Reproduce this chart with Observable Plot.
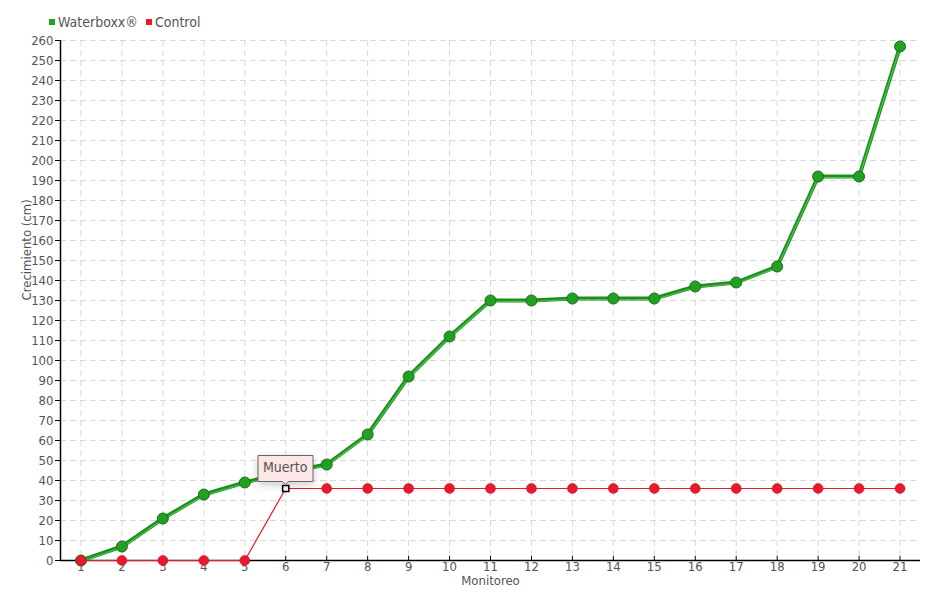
<!DOCTYPE html>
<html>
<head>
<meta charset="utf-8">
<script src="https://cdn.jsdelivr.net/npm/d3@7"></script>
<script src="https://cdn.jsdelivr.net/npm/@observablehq/plot@0.6"></script>
<style>
  html, body { margin: 0; padding: 0; background: #fff; }
  #wrap { position: relative; width: 940px; height: 600px; font-family: "DejaVu Sans Condensed", "Liberation Sans Narrow", sans-serif; }
  #legend { position: absolute; left: 49px; top: 14px; font-size: 14px; line-height: 16px; color: #555; display: flex; gap: 8px; align-items: center; }
  #legend span.sw { display: inline-block; width: 6px; height: 6px; margin-right: 3px; vertical-align: middle; position: relative; top: -1px; }
</style>
</head>
<body>
<div id="wrap">
  <div id="legend">
    <span><span class="sw" style="background:#22a022"></span>Waterboxx®</span>
    <span><span class="sw" style="background:#e8192c"></span>Control</span>
  </div>
  <div id="chart"></div>
</div>
<script>
const monitoreo = [1,2,3,4,5,6,7,8,9,10,11,12,13,14,15,16,17,18,19,20,21];
const waterboxx = [0,7,21,33,39,44,48,63,92,112,130,130,131,131,131,137,139,147,192,192,257];
const control   = [0,0,0,0,0,36,36,36,36,36,36,36,36,36,36,36,36,36,36,36,36];
const yTicks = [0,10,20,30,40,50,60,70,80,90,100,110,120,130,140,150,160,170,180,190,200,210,220,230,240,250,260];
const annotation = [{x: 6, y: 36, label: "Muerto"}];

const wData = monitoreo.map((m, i) => ({x: m, y: waterboxx[i]}));
const cData = monitoreo.map((m, i) => ({x: m, y: control[i]}));

const font = '"DejaVu Sans Condensed", "Liberation Sans Narrow", sans-serif';

const chart = Plot.plot({
  width: 940,
  height: 600,
  marginTop: 40,
  marginBottom: 40,
  marginLeft: 60,
  marginRight: 20,
  style: {fontFamily: font, fontSize: "13px", color: "#555", background: "#fff"},
  x: {domain: [0.5, 21.5], label: null},
  y: {domain: [0, 260], label: null},
  marks: [
    Plot.gridY(yTicks, {stroke: "#d8d8d8", strokeOpacity: 1, strokeDasharray: "6,4"}),
    Plot.gridX(monitoreo, {stroke: "#d8d8d8", strokeOpacity: 1, strokeDasharray: "6,4"}),
    Plot.axisY(yTicks, {tickSize: 5, stroke: "#000", fill: "#555", fontSize: 13, tickPadding: 2}),
    Plot.axisX(monitoreo, {tickSize: 5, stroke: "#000", fill: "#555", fontSize: 13, tickPadding: 0, dy: -4}),
    Plot.ruleX([0.5], {stroke: "#000", strokeWidth: 1.5}),
    Plot.ruleY([0], {stroke: "#000", strokeWidth: 1.5}),
    Plot.text(["Crecimiento (cm)"], {frameAnchor: "left", rotate: -90, dx: -34, fill: "#555", fontSize: 13}),
    Plot.text(["Monitoreo"], {frameAnchor: "bottom", dy: 24, fill: "#555", fontSize: 13}),
    Plot.line(wData, {x: "x", y: "y", stroke: "#1e8f1e", strokeWidth: 4}),
    Plot.line(wData, {x: "x", y: "y", stroke: "#4cc24c", strokeWidth: 1.2, dy: 1}),
    Plot.line(cData, {x: "x", y: "y", stroke: "#e8192c", strokeWidth: 1.2}),
    Plot.dot(wData, {x: "x", y: "y", r: 5.5, fill: "#22a022", stroke: "#1a6e1a", strokeWidth: 1}),
    Plot.dot(cData.filter(d => d.x !== 6), {x: "x", y: "y", r: 5, fill: "#e8192c", stroke: "#c81020", strokeWidth: 0.5}),
    Plot.dot(annotation, {x: "x", y: "y", symbol: "square", r: 3.5, fill: "#fff", stroke: "#000", strokeWidth: 1.5}),
    Plot.tip(annotation, {x: "x", y: "y", title: "label", anchor: "bottom", fill: "#fde6e6", stroke: "#666", fontSize: 14, textPadding: 5, pointerSize: 6, dy: -4, fontFamily: font})
  ]
});
document.getElementById("chart").appendChild(chart);
</script>
</body>
</html>
